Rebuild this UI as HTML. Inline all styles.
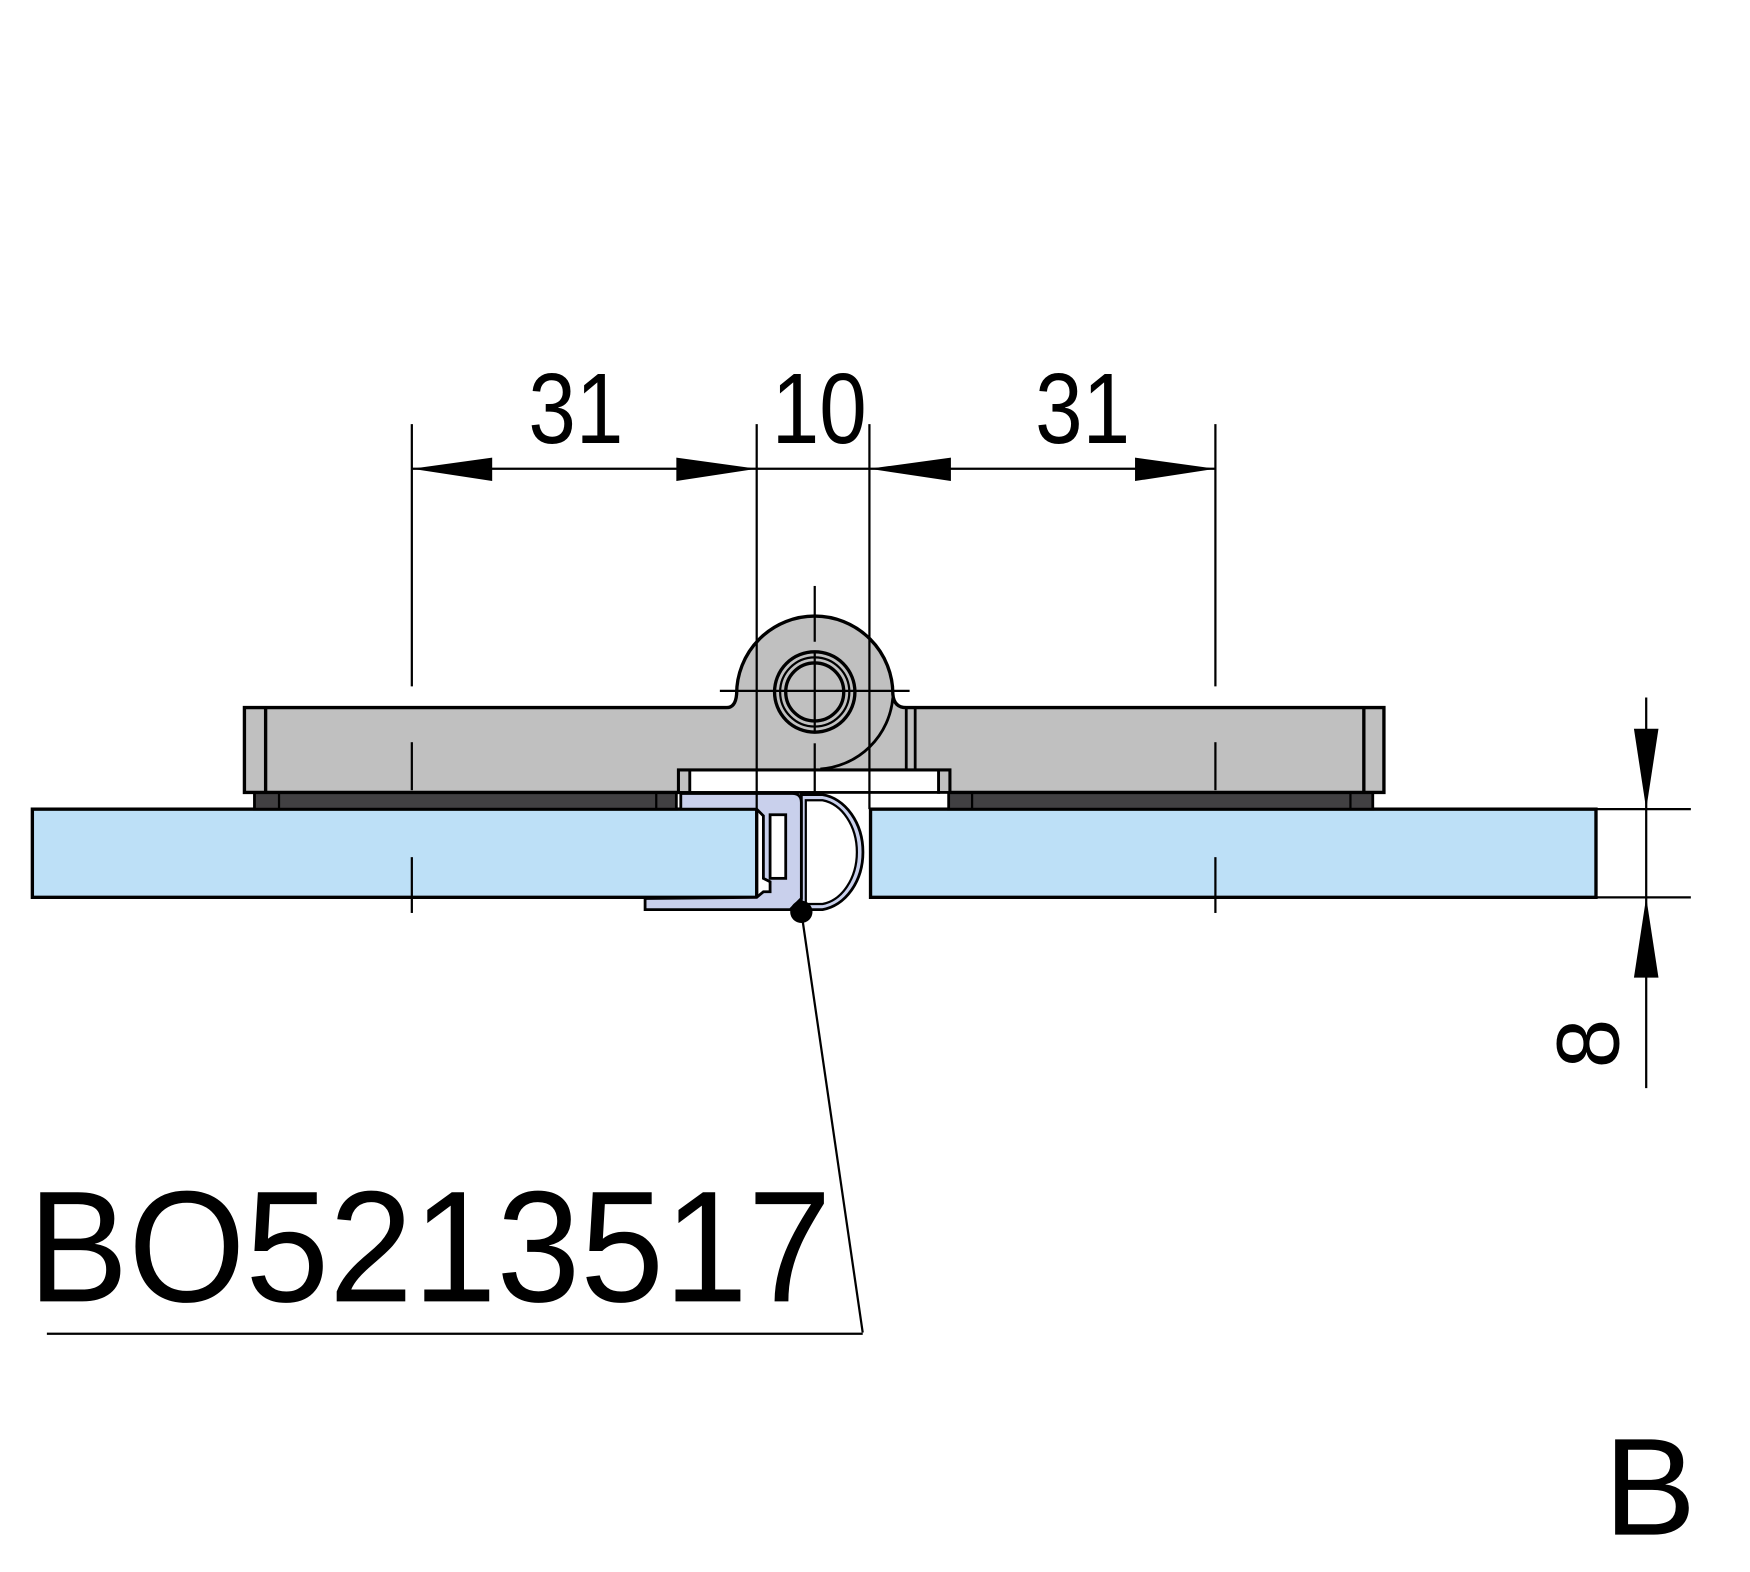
<!DOCTYPE html>
<html><head><meta charset="utf-8"><style>html,body{margin:0;padding:0;background:#fff}svg{display:block}</style></head>
<body>
<svg width="1750" height="1572" viewBox="0 0 1568 1408.5" xmlns="http://www.w3.org/2000/svg" font-family="Liberation Sans, sans-serif">
<rect width="1568" height="1409" fill="#fff"/>
<!-- glass -->
<rect x="29" y="725" width="649" height="79" fill="#bde0f7" stroke="#000" stroke-width="3"/>
<rect x="780" y="725" width="650" height="79" fill="#bde0f7" stroke="#000" stroke-width="3"/>
<!-- black strips -->
<rect x="228" y="710" width="378" height="15" fill="#414042" stroke="#000" stroke-width="2.5"/>
<line x1="250" y1="710" x2="250" y2="725" stroke="#000" stroke-width="2"/>
<line x1="588" y1="710" x2="588" y2="725" stroke="#000" stroke-width="2"/>
<rect x="850" y="710" width="380" height="15" fill="#414042" stroke="#000" stroke-width="2.5"/>
<line x1="871" y1="710" x2="871" y2="725" stroke="#000" stroke-width="2"/>
<line x1="1210" y1="710" x2="1210" y2="725" stroke="#000" stroke-width="2"/>
<!-- plates -->
<path d="M219,634 L651,634 Q659,634 660,622 A70,70 0 0 1 800,622 Q801,634 812,634 L1240,634 L1240,710 L851,710 L851,690 L608,690 L608,710 L219,710 Z" fill="#c0c0c0" stroke="#000" stroke-width="3"/>
<line x1="238" y1="634" x2="238" y2="710" stroke="#000" stroke-width="3"/>
<line x1="1222" y1="634" x2="1222" y2="710" stroke="#000" stroke-width="3"/>
<line x1="812" y1="634" x2="812" y2="690" stroke="#000" stroke-width="2.5"/>
<line x1="820" y1="634" x2="820" y2="690" stroke="#000" stroke-width="2.5"/>
<path d="M735,689 A70,70 0 0 0 800,625" fill="none" stroke="#000" stroke-width="2.5"/>
<rect x="618" y="690" width="223" height="20" fill="#fff" stroke="#000" stroke-width="2.5"/>
<rect x="608" y="690" width="10" height="20" fill="#c0c0c0" stroke="#000" stroke-width="2.5"/>
<rect x="841" y="690" width="10" height="20" fill="#c0c0c0" stroke="#000" stroke-width="2.5"/>
<circle cx="730" cy="620" r="36" fill="none" stroke="#000" stroke-width="3"/>
<circle cx="730" cy="620" r="31" fill="none" stroke="#000" stroke-width="2"/>
<circle cx="730" cy="620" r="26" fill="none" stroke="#000" stroke-width="3"/>
<!-- seal D bulb -->
<path d="M718,712 L737,712 A42,52 0 0 1 737,815 L718,815 Z" fill="#c9d0ec" stroke="#000" stroke-width="2.5"/>
<path d="M722,717 L737,717 A36,47 0 0 1 737,810 L722,810 Z" fill="#fff" stroke="#000" stroke-width="2"/>
<!-- seal clip -->
<path d="M610,711 L710,711 Q718,711 718,719 L718,805 L708,815 L578,815 L578,805 L678,804 L684,799 L690,799 L690,790 L684,787 L684,731 L678,725 L610,725 Z" fill="#c9d0ec" stroke="#000" stroke-width="2.5"/>
<rect x="690" y="730" width="14" height="57" fill="#fff" stroke="#000" stroke-width="2.5"/>
<circle cx="718" cy="817" r="10" fill="#000"/>
<!-- center/extension lines -->
<g stroke="#000" stroke-width="2">
<line x1="730" y1="525" x2="730" y2="575"/><line x1="730" y1="585" x2="730" y2="655"/><line x1="730" y1="666" x2="730" y2="710"/>
<line x1="645" y1="619" x2="815" y2="619"/>
<line x1="369" y1="380" x2="369" y2="615"/><line x1="369" y1="665" x2="369" y2="708"/><line x1="369" y1="768" x2="369" y2="818"/>
<line x1="1089" y1="380" x2="1089" y2="615"/><line x1="1089" y1="665" x2="1089" y2="708"/><line x1="1089" y1="768" x2="1089" y2="818"/>
<line x1="678" y1="380" x2="678" y2="725"/>
<line x1="779" y1="380" x2="779" y2="725"/>
<line x1="369" y1="420" x2="1089" y2="420"/>
<line x1="1475" y1="625" x2="1475" y2="975"/>
<line x1="1430" y1="725" x2="1515" y2="725"/>
<line x1="1430" y1="804" x2="1515" y2="804"/>
<line x1="718" y1="817" x2="773" y2="1194"/>
<line x1="42" y1="1195" x2="773" y2="1195"/>
</g>
<!-- arrows -->
<g fill="#000">
<polygon points="369,420 441,410 441,431"/>
<polygon points="678,420 606,410 606,431"/>
<polygon points="779,420 852,410 852,431"/>
<polygon points="1089,420 1017,410 1017,431"/>
<polygon points="1475,725 1464,653 1486,653"/>
<polygon points="1475,804 1464,876 1486,876"/>
</g>
<!-- text -->
<g fill="#000">
<text x="516" y="397" font-size="90" text-anchor="middle" transform="translate(516 0) scale(0.85 1) translate(-516 0)">31</text>
<text x="734" y="397" font-size="90" text-anchor="middle" transform="translate(734 0) scale(0.85 1) translate(-734 0)">10</text>
<text x="970" y="397" font-size="90" text-anchor="middle" transform="translate(970 0) scale(0.85 1) translate(-970 0)">31</text>
<text transform="translate(1450 935) rotate(-90)" font-size="80" text-anchor="middle">8</text>
<text x="25" y="1166" font-size="142" textLength="720" lengthAdjust="spacingAndGlyphs">BO5213517</text>
<text x="1437" y="1375" font-size="124">B</text>
</g>
</svg>
</body></html>
